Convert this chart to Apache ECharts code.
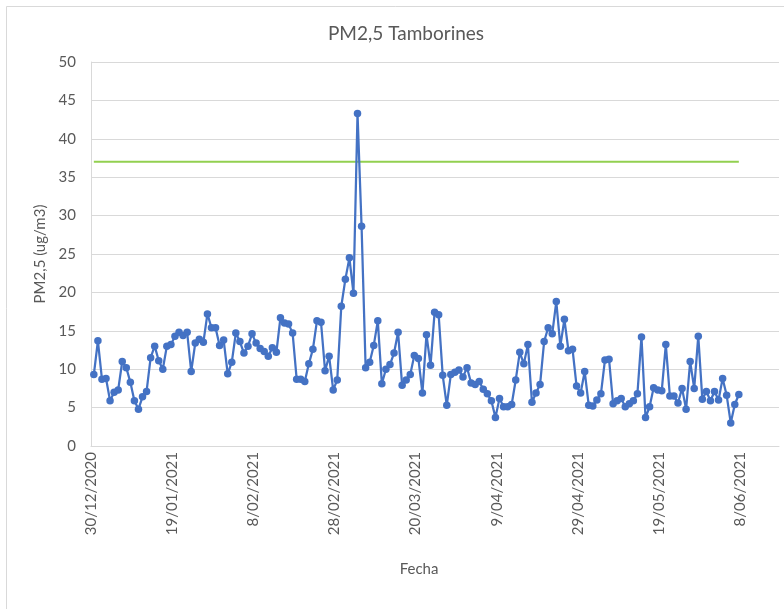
<!DOCTYPE html>
<html>
<head>
<meta charset="utf-8">
<title>PM2,5 Tamborines</title>
<script src="https://cdn.jsdelivr.net/npm/echarts@6/dist/echarts.min.js"></script>
<style>
  html, body { margin: 0; padding: 0; background: #fff; }
  #chart { width: 784px; height: 609px; }
</style>
</head>
<body>
<div id="chart"></div>
<script>
  // daily PM2.5 readings, 30/12/2020 .. 7/06/2021
  const pm25 = [
    9.3, 13.7, 8.7, 8.8, 5.9, 7.0, 7.3, 11.0, 10.2, 8.3,
    5.9, 4.8, 6.4, 7.1, 11.5, 13.0, 11.1, 10.0, 13.0, 13.2,
    14.3, 14.8, 14.4, 14.8, 9.7, 13.4, 13.9, 13.5, 17.2, 15.4,
    15.4, 13.1, 13.8, 9.4, 10.9, 14.7, 13.6, 12.1, 13.0, 14.6,
    13.4, 12.7, 12.3, 11.7, 12.8, 12.2, 16.7, 16.0, 15.9, 14.7,
    8.7, 8.7, 8.4, 10.7, 12.6, 16.3, 16.1, 9.8, 11.7, 7.3,
    8.6, 18.2, 21.7, 24.5, 19.9, 43.3, 28.6, 10.2, 10.9, 13.1,
    16.3, 8.1, 10.0, 10.6, 12.1, 14.8, 7.9, 8.6, 9.3, 11.8,
    11.4, 6.9, 14.5, 10.5, 17.4, 17.1, 9.2, 5.3, 9.3, 9.6,
    9.9, 9.0, 10.2, 8.2, 8.0, 8.4, 7.4, 6.8, 5.9, 3.7,
    6.2, 5.1, 5.1, 5.4, 8.6, 12.2, 10.7, 13.2, 5.7, 6.9,
    8.0, 13.6, 15.4, 14.6, 18.8, 13.0, 16.5, 12.4, 12.6, 7.8,
    6.9, 9.7, 5.3, 5.2, 6.0, 6.8, 11.2, 11.3, 5.5, 5.9,
    6.2, 5.1, 5.5, 5.9, 6.8, 14.2, 3.7, 5.1, 7.6, 7.3,
    7.2, 13.2, 6.5, 6.5, 5.6, 7.5, 4.8, 11.0, 7.5, 14.3,
    6.1, 7.1, 5.9, 7.1, 6.0, 8.8, 6.6, 3.0, 5.4, 6.7
  ]
  const limitValue = 37
  const tickLabels = ['30/12/2020', '19/01/2021', '8/02/2021', '28/02/2021', '20/03/2021',
    '9/04/2021', '29/04/2021', '19/05/2021', '8/06/2021']
  const tickStep = 20 // days between date labels

  const chart = echarts.init(document.getElementById('chart'))
  const font = 'Lato, "Open Sans", sans-serif'
  const grey = '#595959'
  const dayOffset = 0.7

  const option = {
    backgroundColor: '#fff',
    animation: false,
    textStyle: { fontFamily: font },
    title: [
      {
        text: 'PM2,5 Tamborines',
        left: 401, top: 19, textAlign: 'center',
        textStyle: { fontFamily: font, fontSize: 19, fontWeight: 'normal', color: grey }
      },
      {
        text: 'Fecha',
        left: 414, top: 557, textAlign: 'center',
        textStyle: { fontFamily: font, fontSize: 15, fontWeight: 'normal', color: grey }
      }
    ],
    graphic: [
      {
        type: 'rect', silent: true, z: -1,
        shape: { x: 6.5, y: 6.5, width: 800, height: 700 },
        style: { fill: 'none', stroke: '#d9d9d9', lineWidth: 1 }
      }
    ],
    grid: { left: 91, right: 5, top: 62, bottom: 163 },
    xAxis: {
      type: 'value',
      min: 0,
      max: 169.6,
      interval: tickStep,
      splitLine: { show: false },
      axisTick: { show: false },
      axisLine: { show: true, lineStyle: { color: '#d9d9d9', width: 1 } },
      axisLabel: {
        rotate: 90,
        margin: 6,
        fontSize: 15,
        color: grey,
        fontFamily: font,
        showMaxLabel: false,
        formatter: v => (v % tickStep === 0 ? (tickLabels[v / tickStep] || '') : '')
      }
    },
    yAxis: {
      type: 'value',
      min: 0,
      max: 50,
      interval: 5,
      name: 'PM2,5 (ug/m3)',
      nameLocation: 'middle',
      nameGap: 40,
      nameTextStyle: { fontSize: 15, color: grey, fontFamily: font },
      axisLine: { show: true, lineStyle: { color: '#d9d9d9', width: 1 } },
      axisTick: { show: false },
      axisLabel: { fontSize: 15, color: grey, margin: 15, fontFamily: font },
      splitLine: { lineStyle: { color: '#d9d9d9', width: 1 } }
    },
    series: [
      {
        name: 'PM2,5',
        type: 'line',
        data: pm25.map((v, i) => [i + dayOffset, v]),
        symbol: 'circle',
        symbolSize: 7.5,
        lineStyle: { color: '#4472C4', width: 2.25 },
        itemStyle: { color: '#4472C4' },
        z: 3
      },
      {
        name: 'Límite',
        type: 'line',
        data: pm25.map((v, i) => [i + dayOffset, limitValue]),
        symbol: 'none',
        lineStyle: { color: '#92D050', width: 2 },
        z: 2
      }
    ]
  }

  chart.setOption(option)
</script>
</body>
</html>
